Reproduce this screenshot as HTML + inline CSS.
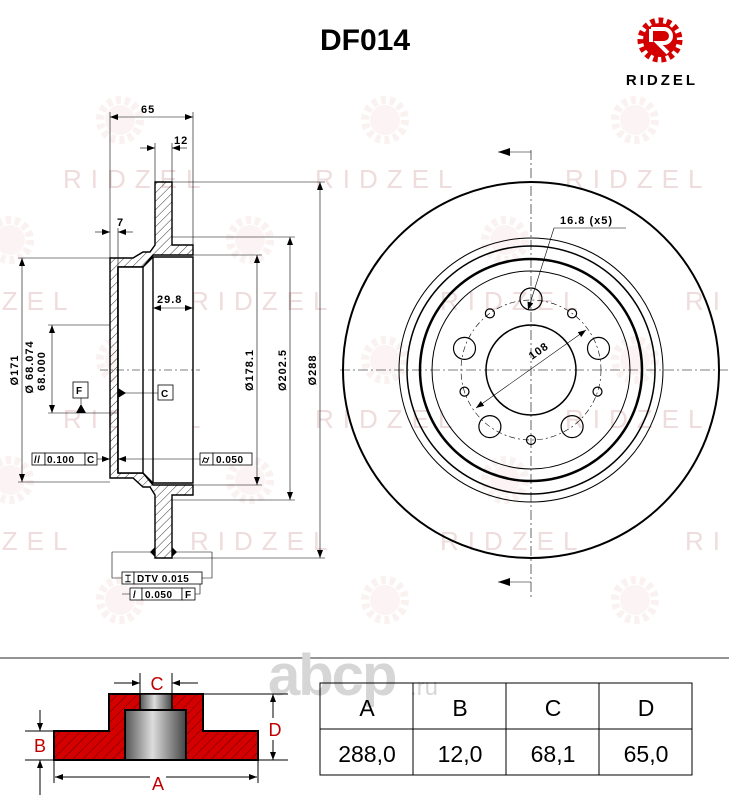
<!DOCTYPE html>
<html><head><meta charset="utf-8"><style>
html,body{margin:0;padding:0;background:#fff;}
svg{display:block;}
</style></head><body>
<svg width="729" height="800" viewBox="0 0 729 800" xmlns="http://www.w3.org/2000/svg" font-family="Liberation Sans, sans-serif">
<defs>
<pattern id="h" patternUnits="userSpaceOnUse" width="6" height="6" patternTransform="rotate(45)"><line x1="0" y1="0" x2="0" y2="6" stroke="#000" stroke-width="0.8"/></pattern>
<pattern id="hr" patternUnits="userSpaceOnUse" width="7" height="7" patternTransform="rotate(45)"><rect width="7" height="7" fill="#d40000"/><line x1="0" y1="0" x2="0" y2="7" stroke="#600" stroke-width="1"/></pattern>
<linearGradient id="cyl" x1="0" x2="1" y1="0" y2="0"><stop offset="0" stop-color="#555"/><stop offset="0.45" stop-color="#ddd"/><stop offset="1" stop-color="#444"/></linearGradient>
<marker id="a" markerWidth="8" markerHeight="6" refX="8" refY="3" orient="auto-start-reverse" markerUnits="userSpaceOnUse"><path d="M0,0 L8,3 L0,6z" fill="#000"/></marker>
<g id="gear"><circle r="20" fill="none" stroke="#f5e2e2" stroke-width="8" stroke-dasharray="5 4"/><circle r="15" fill="#f8e8e8"/></g>
</defs>
<!-- watermarks -->
<g fill="#efdcdc" font-size="26" letter-spacing="9">
<text x="63" y="188">RIDZEL</text><text x="315" y="188">RIDZEL</text><text x="565" y="188">RIDZEL</text>
<text x="-70" y="310">RIDZEL</text><text x="190" y="310">RIDZEL</text><text x="440" y="310">RIDZEL</text><text x="685" y="310">RIDZEL</text>
<text x="63" y="428">RIDZEL</text><text x="315" y="428">RIDZEL</text><text x="565" y="428">RIDZEL</text>
<text x="-70" y="550">RIDZEL</text><text x="190" y="550">RIDZEL</text><text x="440" y="550">RIDZEL</text><text x="685" y="550">RIDZEL</text>
</g>
<g opacity="0.5"><use href="#gear" x="120" y="120"/><use href="#gear" x="385" y="120"/><use href="#gear" x="635" y="120"/>
<use href="#gear" x="10" y="240"/><use href="#gear" x="250" y="240"/><use href="#gear" x="505" y="240"/>
<use href="#gear" x="120" y="360"/><use href="#gear" x="385" y="360"/><use href="#gear" x="635" y="360"/>
<use href="#gear" x="10" y="480"/><use href="#gear" x="250" y="480"/><use href="#gear" x="505" y="480"/>
<use href="#gear" x="120" y="600"/><use href="#gear" x="385" y="600"/><use href="#gear" x="635" y="600"/></g>

<!-- header -->
<text x="365" y="50" font-size="30" font-weight="bold" text-anchor="middle">DF014</text>
<g transform="translate(660,40)"><circle r="19" fill="none" stroke="#d40000" stroke-width="7" stroke-dasharray="4.5 3.5"/><circle r="17" fill="#d40000"/>
<path d="M-9,-11 H4 A7,7 0 0 1 4,3 H-2 L8,13" fill="none" stroke="#fff" stroke-width="4"/><path d="M-9,-11 V2" stroke="#fff" stroke-width="4"/></g>
<text x="662" y="85" font-size="15" font-weight="bold" text-anchor="middle" letter-spacing="3">RIDZEL</text>

<!-- left section drawing -->
<g stroke="#000" fill="none" stroke-width="1.4">
<path d="M155,182 H172 V245 H193 V255 H153 L143,267 H118 V473 H143 L153,485 H193 V495 H172 V558 H155 V495 L150,487 H143 L133,478 H110 V258 H133 L143,252 H150 L155,245 Z" fill="url(#h)"/>
<path d="M118,267 H143 L153,257 H193 V483 H153 L143,473 H118Z" fill="#fff"/>
<line x1="143" y1="267" x2="143" y2="473"/><line x1="153" y1="257" x2="153" y2="483"/>
<line x1="118" y1="267" x2="118" y2="473"/>
</g>
<g stroke="#000" stroke-width="0.6" fill="none">
<line x1="100" y1="370" x2="200" y2="370" stroke-dasharray="8 3 2 3"/>
<line x1="110" y1="112" x2="110" y2="258"/><line x1="193" y1="112" x2="193" y2="245"/>
<line x1="110" y1="117" x2="193" y2="117" marker-start="url(#a)" marker-end="url(#a)"/>
<line x1="155" y1="143" x2="155" y2="182"/><line x1="172" y1="143" x2="172" y2="182"/>
<line x1="140" y1="148" x2="155" y2="148" marker-end="url(#a)"/><line x1="187" y1="148" x2="172" y2="148" marker-end="url(#a)"/>
<line x1="118" y1="228" x2="118" y2="267"/>
<line x1="95" y1="232" x2="110" y2="232" marker-end="url(#a)"/><line x1="133" y1="232" x2="118" y2="232" marker-end="url(#a)"/>
<line x1="153" y1="308" x2="193" y2="308" marker-start="url(#a)" marker-end="url(#a)"/>
<line x1="18" y1="258" x2="110" y2="258"/><line x1="18" y1="482" x2="110" y2="482"/>
<line x1="22" y1="258" x2="22" y2="482" marker-start="url(#a)" marker-end="url(#a)"/>
<line x1="48" y1="325" x2="110" y2="325"/><line x1="48" y1="413" x2="118" y2="413"/>
<line x1="52" y1="325" x2="52" y2="413" marker-start="url(#a)" marker-end="url(#a)"/>
<line x1="120" y1="393" x2="158" y2="393"/>
<line x1="193" y1="255" x2="262" y2="255"/><line x1="193" y1="485" x2="262" y2="485"/>
<line x1="257" y1="255" x2="257" y2="485" marker-start="url(#a)" marker-end="url(#a)"/>
<line x1="172" y1="237" x2="295" y2="237"/><line x1="172" y1="500" x2="295" y2="500"/>
<line x1="290" y1="237" x2="290" y2="500" marker-start="url(#a)" marker-end="url(#a)"/>
<line x1="172" y1="182" x2="325" y2="182"/><line x1="172" y1="558" x2="325" y2="558"/>
<line x1="320" y1="182" x2="320" y2="558" marker-start="url(#a)" marker-end="url(#a)"/>
<line x1="97" y1="459" x2="110" y2="459" marker-end="url(#a)"/>
<line x1="200" y1="459" x2="118" y2="459" marker-end="url(#a)"/>
<path d="M112,552 V578 H122 M212,552 V578 H202 M112,552 H155 M172,552 H212 M122,594 H130 M195,594 H200 V578"/>
</g>
<path d="M118,388 L126,393 L118,398Z" fill="#000"/>
<path d="M81,404 L76,413 L86,413Z" fill="#000"/>
<line x1="81" y1="398" x2="81" y2="404" stroke="#000" stroke-width="0.6"/>
<path d="M150,552 L155,547 L155,557Z M177,552 L172,547 L172,557Z" fill="#000"/>
<g font-size="11" font-weight="bold" letter-spacing="1">
<text x="141" y="113">65</text><text x="174" y="144">12</text><text x="117" y="226">7</text><text x="157" y="303">29.8</text>
</g>
<g font-size="11" letter-spacing="1" font-weight="bold">
<text transform="translate(18,370) rotate(-90)" text-anchor="middle">Ø171</text>
<text transform="translate(33,367) rotate(-90)" text-anchor="middle">Ø 68.074</text>
<text transform="translate(45,371) rotate(-90)" text-anchor="middle">68.000</text>
<text transform="translate(253,370) rotate(-90)" text-anchor="middle">Ø178.1</text>
<text transform="translate(286,370) rotate(-90)" text-anchor="middle">Ø202.5</text>
<text transform="translate(316,370) rotate(-90)" text-anchor="middle">Ø288</text>
</g>
<g stroke="#000" stroke-width="0.8" fill="#fff">
<rect x="73" y="382" width="15" height="16"/><rect x="158" y="385" width="15" height="15"/>
<rect x="32" y="453" width="13" height="12"/><rect x="45" y="453" width="40" height="12"/><rect x="85" y="453" width="12" height="12"/>
<rect x="200" y="453" width="13" height="12"/><rect x="213" y="453" width="39" height="12"/>
<rect x="122" y="572" width="12" height="12"/><rect x="134" y="572" width="68" height="12"/>
<rect x="130" y="588" width="12" height="12"/><rect x="142" y="588" width="40" height="12"/><rect x="182" y="588" width="13" height="12"/>
</g>
<g font-size="10" font-weight="bold" letter-spacing="0.5">
<text x="76" y="394">F</text><text x="161" y="397">C</text>
<text x="34" y="463">//</text><text x="47" y="463">0.100</text><text x="87" y="463">C</text>
<text x="202" y="463">⌭</text><text x="216" y="463">0.050</text>
<text x="125" y="582">⌶</text><text x="137" y="582">DTV 0.015</text>
<text x="133" y="598">/</text><text x="145" y="598">0.050</text><text x="185" y="598">F</text>
</g>

<!-- right disc -->
<g stroke="#000" fill="none">
<circle cx="531" cy="370" r="188" stroke-width="2"/>
<circle cx="531" cy="370" r="132" stroke-width="1"/>
<circle cx="531" cy="370" r="124" stroke-width="1.5"/>
<circle cx="531" cy="370" r="111" stroke-width="2.5"/>
<circle cx="531" cy="370" r="99" stroke-width="1"/>
<circle cx="531" cy="370" r="45" stroke-width="1.5"/>
<circle cx="531" cy="370" r="70" stroke-width="0.6" stroke-dasharray="6 3 2 3"/>
<g stroke-width="1.2">
<circle cx="531" cy="299" r="11"/><circle cx="598.5" cy="348.4" r="11"/><circle cx="572.1" cy="426.6" r="11"/><circle cx="489.9" cy="426.6" r="11"/><circle cx="464.5" cy="348.4" r="11"/>
<circle cx="531" cy="440" r="4.5"/><circle cx="572.1" cy="313.4" r="4.5"/><circle cx="489.9" cy="313.4" r="4.5"/><circle cx="464.5" cy="391.6" r="4.5"/><circle cx="597.5" cy="391.6" r="4.5"/>
</g>
<g stroke-width="0.6">
<line x1="531" y1="150" x2="531" y2="600" stroke-dasharray="10 3 2 3"/>
<line x1="340" y1="370" x2="729" y2="370" stroke-dasharray="10 3 2 3"/>
<line x1="498" y1="152" x2="531" y2="152"/><line x1="498" y1="582" x2="531" y2="582"/>
<line x1="626" y1="228" x2="554" y2="228"/><line x1="554" y1="228" x2="528" y2="310" marker-end="url(#a)"/>
<line x1="586" y1="330" x2="476" y2="408" marker-start="url(#a)" marker-end="url(#a)"/>
</g>
</g>
<path d="M498,152 L510,148 L510,156Z M498,582 L510,578 L510,586Z" fill="#000"/>
<text x="560" y="224" font-size="11" font-weight="bold" letter-spacing="1">16.8 (x5)</text>
<text transform="translate(532,360) rotate(-35)" font-size="11" font-weight="bold" letter-spacing="1">108</text>

<!-- bottom section -->
<line x1="0" y1="658" x2="729" y2="658" stroke="#555" stroke-width="1.2"/>
<text x="268" y="695" font-size="58" font-weight="bold" fill="#d6d6d6" letter-spacing="-2">abcp</text>
<text x="410" y="695" font-size="24" fill="#d6d6d6">.ru</text>

<path d="M54,731 H109 V694 H203 V731 H258 V760 H54Z" fill="url(#hr)" stroke="#000" stroke-width="2"/>
<rect x="140" y="694" width="32" height="16" fill="url(#cyl)" stroke="#000" stroke-width="1.5"/>
<rect x="125" y="710" width="61" height="50" fill="url(#cyl)" stroke="#000" stroke-width="2"/>
<g stroke="#000" stroke-width="1" fill="none">
<line x1="203" y1="694" x2="288" y2="694"/><line x1="25" y1="760" x2="288" y2="760"/><line x1="25" y1="731" x2="54" y2="731"/>
<line x1="273" y1="694" x2="273" y2="760" marker-start="url(#a)" marker-end="url(#a)"/>
<line x1="54" y1="760" x2="54" y2="783"/><line x1="258" y1="760" x2="258" y2="783"/>
<line x1="55" y1="777" x2="257" y2="777" marker-start="url(#a)" marker-end="url(#a)"/>
<line x1="140" y1="673" x2="140" y2="694"/><line x1="172" y1="673" x2="172" y2="694"/>
<line x1="114" y1="683" x2="140" y2="683" marker-end="url(#a)"/><line x1="198" y1="683" x2="172" y2="683" marker-end="url(#a)"/>
<line x1="40" y1="710" x2="40" y2="731" marker-end="url(#a)"/><line x1="40" y1="795" x2="40" y2="760" marker-end="url(#a)"/>
</g>
<rect x="150" y="772" width="16" height="12" fill="#fff"/>
<rect x="268" y="718" width="12" height="22" fill="#fff"/>
<g fill="#c00000" font-size="18" text-anchor="middle">
<text x="157" y="690">C</text><text x="158" y="790">A</text><text x="40" y="752">B</text><text x="275" y="736">D</text>
</g>

<!-- table -->
<g stroke="#000" stroke-width="1" fill="none">
<rect x="320" y="683" width="372" height="92"/>
<line x1="320" y1="729" x2="692" y2="729"/>
<line x1="413" y1="683" x2="413" y2="775"/><line x1="506" y1="683" x2="506" y2="775"/><line x1="599" y1="683" x2="599" y2="775"/>
</g>
<g font-size="23" text-anchor="middle">
<text x="367" y="716">A</text><text x="460" y="716">B</text><text x="553" y="716">C</text><text x="646" y="716">D</text>
<text x="367" y="762">288,0</text><text x="460" y="762">12,0</text><text x="553" y="762">68,1</text><text x="646" y="762">65,0</text>
</g>
</svg>
</body></html>
